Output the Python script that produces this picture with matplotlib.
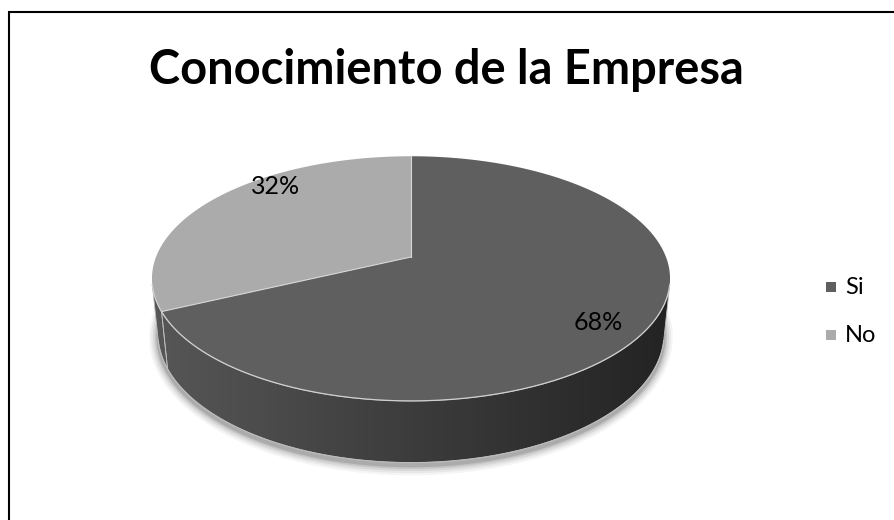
import numpy as np
import matplotlib
matplotlib.use("Agg")
import matplotlib.pyplot as plt
from matplotlib.patches import Polygon, Rectangle
from matplotlib.colors import LinearSegmentedColormap

# ---- data ----
categories = ["Si", "No"]
values = [68, 32]
top_colors = ["#5f5f5f", "#ababab"]
title = "Conocimiento de la Empresa"

FONT = "Lato"

W, H = 894, 520
fig = plt.figure(figsize=(W / 100, H / 100), dpi=100)
ax = fig.add_axes([0, 0, 1, 1])
ax.set_xlim(0, W)
ax.set_ylim(H, 0)
ax.axis("off")

# ---- 3D pie camera ----
elev = np.radians(27.7)
cs, sn = np.cos(elev), np.sin(elev)
dist = 5.02
depth_h = 0.246
K = 1280.0
cx, cy = 411.0, 257.0


def project(X, Y, Z):
    vx = X
    vy = Y + dist * cs
    vz = Z - dist * sn
    d = vy * cs - vz * sn
    up = vy * sn + vz * cs
    return cx + K * vx / d, cy - K * up / d


def rim(t0, t1, z, n=200):
    t = np.radians(np.linspace(t0, t1, n))
    px, py = project(np.cos(t), np.sin(t), z)
    return np.column_stack([px, py])


# slice angles: start at 12 o'clock, clockwise
total = float(sum(values))
spans = [360.0 * v / total for v in values]
bounds = []
a = 90.0
for s in spans:
    bounds.append((a, a - s))
    a -= s

# front-facing portion of the cylinder wall
lim = np.degrees(np.arcsin(1.0 / (dist * cs)))
front_lo, front_hi = -180.0 + lim, -lim

# soft shadow under the pie
b = rim(0, 360, -depth_h, 300)
bcx, bcy = b[:, 0].mean(), b[:, 1].mean()
for grow, alpha in [(9, 0.04), (7, 0.05), (5, 0.07), (3, 0.09), (1.5, 0.12)]:
    pts = np.column_stack([bcx + (b[:, 0] - bcx) * (1 + grow / 260.0),
                           bcy + (b[:, 1] - bcy) * (1 + grow / 130.0) + 3])
    ax.add_patch(Polygon(pts, closed=True, facecolor="black", edgecolor="none",
                         alpha=alpha, zorder=1))

# side walls with horizontal gradient
side_cmap = LinearSegmentedColormap.from_list("side", ["#575757", "#3c3c3c", "#232323"])
grad = np.linspace(0, 1, 256).reshape(1, -1)
for t0, t1 in bounds:
    lo = max(min(t0, t1), front_lo)
    hi = min(max(t0, t1), front_hi)
    if hi <= lo:
        continue
    top = rim(lo, hi, 0.0)
    bot = rim(hi, lo, -depth_h)
    outline = np.vstack([top, bot])
    ax.add_patch(Polygon(outline, closed=True, facecolor="none",
                         edgecolor="#bdbdbd", lw=0.6, zorder=3))
    img = ax.imshow(grad, cmap=side_cmap, aspect="auto",
                    extent=[150, 675, 470, 150], zorder=2)
    img.set_clip_path(Polygon(outline, closed=True, transform=ax.transData))

ax.set_xlim(0, W)
ax.set_ylim(H, 0)

# top faces
c0 = project(0.0, 0.0, 0.0)
for (t0, t1), col in zip(bounds, top_colors):
    arc = rim(t0, t1, 0.0)
    pts = np.vstack([[c0[0], c0[1]], arc])
    ax.add_patch(Polygon(pts, closed=True, facecolor=col, edgecolor="none", zorder=4))

# highlight edges
front = rim(front_lo, front_hi, 0.0)
ax.plot(front[:, 0], front[:, 1], color="#d0d0d0", lw=0.9, zorder=5)
for t0, _ in bounds:
    e = rim(t0, t0, 0.0, 2)[0]
    ax.plot([c0[0], e[0]], [c0[1], e[1]], color="#d8d8d8", lw=0.8, zorder=5)
botrim = rim(front_lo, front_hi, -depth_h)
ax.plot(botrim[:, 0], botrim[:, 1], color="#bcbcbc", lw=0.8, zorder=5)

# percentage labels
label_pos = [(598, 322), (276, 186)]
for v, (lx, ly) in zip(values, label_pos):
    ax.text(lx, ly, f"{v / total:.0%}", ha="center", va="center",
            fontsize=18, family=FONT, color="black", zorder=6)

# title
ax.text(446, 70, title, ha="center", va="center", fontsize=33.8,
        fontweight="bold", family=FONT, color="black")

# legend
leg_y = [287, 335]
for name, col, ly in zip(categories, top_colors, leg_y):
    ax.add_patch(Rectangle((826, ly - 5), 10, 10, facecolor=col, edgecolor="none"))
    ax.text(845, ly, name, ha="left", va="center", fontsize=17, family=FONT)

# chart frame (left and top edges)
ax.plot([9, 9, W + 5], [H + 5, 12, 12], color="black", lw=1.5, solid_joinstyle="miter",
        clip_on=False)

fig.savefig("out.png", dpi=100, facecolor="white")
